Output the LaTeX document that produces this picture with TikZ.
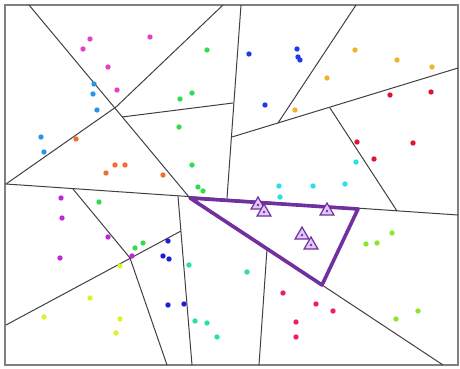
\documentclass[tikz,border=0pt]{standalone}
\usetikzlibrary{shapes.geometric}
\definecolor{cmag}{RGB}{228,64,200}
\definecolor{clblue}{RGB}{40,150,230}
\definecolor{corange}{RGB}{240,110,50}
\definecolor{cgreen}{RGB}{50,220,80}
\definecolor{cblue}{RGB}{30,60,230}
\definecolor{cgold}{RGB}{240,180,40}
\definecolor{cred}{RGB}{225,20,55}
\definecolor{ccyan}{RGB}{40,225,230}
\definecolor{cviol}{RGB}{190,40,220}
\definecolor{cyell}{RGB}{225,240,40}
\definecolor{cmblue}{RGB}{30,30,215}
\definecolor{caqua}{RGB}{40,225,160}
\definecolor{cpink}{RGB}{240,30,90}
\definecolor{cchart}{RGB}{140,230,40}
\definecolor{hullpurple}{RGB}{112,48,160}
\definecolor{trifill}{RGB}{225,200,245}
\tikzset{
    cell/.style={draw=black!75, line width=1pt},
    hull/.style={draw=hullpurple, line width=3.6pt, line join=round},
    tri/.style={regular polygon, regular polygon sides=3, draw=hullpurple, fill=trifill,
        line width=1.2pt, minimum size=16pt, inner sep=0pt}
}
\begin{document}
\begin{tikzpicture}[x=1pt,y=-1pt]
        \useasboundingbox (0,0) rectangle (460,369);
        % border
            \draw[gray, line width=1.8pt] (5,5) rectangle (458,365);
        % vertices
            \coordinate (t1) at (29,5);   \coordinate (t2) at (223,5);
            \coordinate (t3) at (241,5);  \coordinate (t4) at (356,5);
            \coordinate (l1) at (6,184);  \coordinate (l2) at (6,325);
            \coordinate (r1) at (458,68); \coordinate (r2) at (458,215);
            \coordinate (b1) at (167,365); \coordinate (b2) at (192,365);
            \coordinate (b3) at (259,365); \coordinate (b4) at (443,365);
            \coordinate (v1) at (116,107); \coordinate (v2) at (122,117);
            \coordinate (v3) at (233,103); \coordinate (v4) at (232,137);
            \coordinate (v5) at (278,123); \coordinate (v6) at (330,108);
            \coordinate (v7) at (397,211); \coordinate (v8) at (189,197);
            \coordinate (v9) at (227,198); \coordinate (v10) at (73,189);
            \coordinate (v11) at (130,258); \coordinate (v12) at (178,196);
            \coordinate (v13) at (181,231); \coordinate (v14) at (267,249);
        % cells
            \draw[cell] (l1) -- (v1) -- (t2);
            \foreach \a/\b in {t1/v8,v2/v3,t3/v9,v4/r1,v5/t4,v6/v7,l1/r2,
                v10/v11,l2/v13,v11/b1,v12/b2,v14/b3,v8/b4}{
                \draw[cell] (\a) -- (\b);
            }
        % points
            \foreach \x/\y in {90/39,83/49,108/67,117/90,150/37} \fill[cmag] (\x,\y) circle (2.7);
            \foreach \x/\y in {94/84,93/94,97/110,41/137,44/152} \fill[clblue] (\x,\y) circle (2.7);
            \foreach \x/\y in {76/139,115/165,125/165,106/173,163/175} \fill[corange] (\x,\y) circle (2.7);
            \foreach \x/\y in {207/50,192/93,180/99,179/127,192/165,198/187,203/191,99/202,135/248,143/243}
                \fill[cgreen] (\x,\y) circle (2.7);
            \foreach \x/\y in {249/54,297/49,298/57,300/60,265/105} \fill[cblue] (\x,\y) circle (2.7);
            \foreach \x/\y in {295/110,355/50,397/60,432/67,327/78} \fill[cgold] (\x,\y) circle (2.7);
            \foreach \x/\y in {390/95,431/92,357/142,413/143,374/159} \fill[cred] (\x,\y) circle (2.7);
            \foreach \x/\y in {356/162,313/186,345/184,279/186,280/197} \fill[ccyan] (\x,\y) circle (2.7);
            \foreach \x/\y in {61/198,62/218,108/237,60/258,132/256} \fill[cviol] (\x,\y) circle (2.7);
            \foreach \x/\y in {120/266,90/298,44/317,120/319,116/333} \fill[cyell] (\x,\y) circle (2.7);
            \foreach \x/\y in {168/241,163/256,169/259,168/305,184/304} \fill[cmblue] (\x,\y) circle (2.7);
            \foreach \x/\y in {189/265,247/272,195/321,207/323,217/337} \fill[caqua] (\x,\y) circle (2.7);
            \foreach \x/\y in {283/293,296/322,296/337,316/304,333/311} \fill[cpink] (\x,\y) circle (2.7);
            \foreach \x/\y in {392/233,366/244,377/243,418/311,396/319} \fill[cchart] (\x,\y) circle (2.7);
        % hull
            \coordinate (h1) at (190,198);
            \coordinate (h2) at (358,209);
            \coordinate (h3) at (322,285);
            \draw[hull] (h1) -- (h2) -- (h3) -- cycle;
        % query points
            \foreach \n/\x/\y in {m1/258/205,m2/264/212,m3/327/211,m4/302/235,m5/311/245}{
                \node[tri] (\n) at (\x,\y) {};
                \fill[hullpurple] (\n.center) circle (1.3);
            }
        \end{tikzpicture}
\end{document}
